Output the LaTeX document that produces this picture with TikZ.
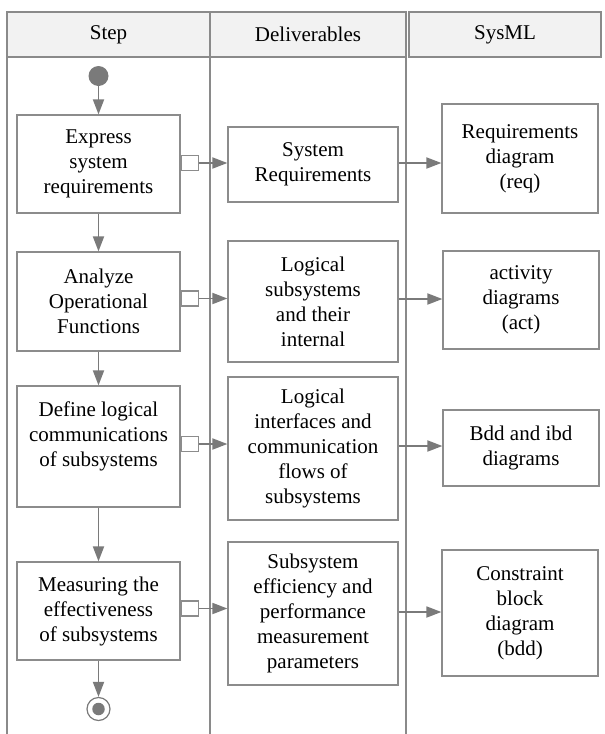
\documentclass[tikz,border=0pt]{standalone}
\usepackage{fontspec}
\setmainfont{Liberation Serif}
\usetikzlibrary{arrows.meta}
\definecolor{lanegray}{HTML}{8A8A8A}
\definecolor{boxgray}{HTML}{8C8C8C}
\definecolor{arrowgray}{HTML}{7A7A7A}
\definecolor{headfill}{HTML}{F2F2F2}
\tikzset{
  txt/.style={font=\fontsize{21}{25}\selectfont, align=center},
  headcell/.style={draw=lanegray, line width=1.3pt, fill=headfill},
  lane/.style={draw=lanegray, line width=1.6pt},
  actbox/.style={txt, draw=boxgray, line width=1.2pt, fill=white, inner sep=0pt},
  stepbox/.style={actbox, minimum width=163pt},
  delivbox/.style={actbox, minimum width=170pt},
  sysbox/.style={actbox, minimum width=156pt},
  port/.style={draw=boxgray, line width=1.2pt, fill=white, minimum width=17pt, minimum height=15pt, inner sep=0pt, anchor=west},
  flow/.style={draw=arrowgray, line width=1.8pt, -{Triangle[length=15pt,width=11pt]}, color=arrowgray},
}
\begin{document}
\begin{tikzpicture}[x=1pt, y=-1pt]
\useasboundingbox (0,0) rectangle (605,734);

% header row
\draw[headcell] (7,12) rectangle (210,57);
\draw[headcell] (210,12) rectangle (406,57);
\draw[headcell] (409,12) rectangle (601,57);
\node[txt] (hstep) at (108.5,34.5) {Step};
\node[txt] (hdeliv) at (308,34.5) {Deliverables};
\node[txt] (hsys) at (505,34.5) {SysML};

% swimlane separators
\draw[lane] (7,57) -- (7,734);
\draw[lane] (210,57) -- (210,734);
\draw[lane] (406,57) -- (406,734);

% initial node
\node[circle, fill=arrowgray, minimum size=20pt, inner sep=0pt] (start) at (98.5,76) {};

% steps
\node[stepbox, minimum height=98pt] (s1) at (98.5,164) {Express\\system\\requirements};
\node[stepbox, minimum height=99pt] (s2) at (98.5,301.5) {Analyze\\Operational\\Functions};
\node[stepbox, minimum height=121pt] (s3) at (98.5,446.5) {Define logical\\communications\\of subsystems\\\mbox{}};
\node[stepbox, minimum height=98pt] (s4) at (98.5,611) {Measuring the\\effectiveness\\of subsystems};

% final node
\node[circle, draw=arrowgray, line width=1.2pt, fill=white, minimum size=23pt, inner sep=0pt] (final) at (98.5,709) {};
\node[circle, fill=arrowgray, minimum size=12.5pt, inner sep=0pt] (finaldot) at (final.center) {};

% output pins
\node[port] (p1) at (s1.east |- 0,163) {};
\node[port] (p2) at (s2.east |- 0,298.5) {};
\node[port] (p3) at (s3.east |- 0,444) {};
\node[port] (p4) at (s4.east |- 0,608.5) {};

% deliverables
\node[delivbox, minimum height=75pt] (d1) at (313,164.5) {System\\Requirements};
\node[delivbox, minimum height=121pt] (d2) at (313,301.5) {Logical\\subsystems\\and their\\internal};
\node[delivbox, minimum height=143pt] (d3) at (313,448.5) {Logical\\interfaces and\\communication\\flows of\\subsystems};
\node[delivbox, minimum height=143pt] (d4) at (313,613.5) {Subsystem\\efficiency and\\performance\\measurement\\parameters};

% SysML diagrams
\node[sysbox, minimum height=109pt] (m1) at (520,158.5) {Requirements\\diagram\\(req)};
\node[sysbox, minimum height=98pt] (m2) at (521,300) {activity\\diagrams\\(act)};
\node[sysbox, minimum height=76pt] (m3) at (521,448) {Bdd and ibd\\diagrams};
\node[sysbox, minimum height=126pt] (m4) at (520,613) {Constraint\\block\\diagram\\(bdd)};

% control flow
\draw[flow] (start) -- (s1.north);
\draw[flow] (s1.south) -- (s2.north);
\draw[flow] (s2.south) -- (s3.north);
\draw[flow] (s3.south) -- (s4.north);
\draw[flow] (s4.south) -- (final.north);

% object flow to deliverables
\draw[flow] (p1.east) -- (p1.east -| d1.west);
\draw[flow] (p2.east) -- (p2.east -| d2.west);
\draw[flow] (p3.east) -- (p3.east -| d3.west);
\draw[flow] (p4.east) -- (p4.east -| d4.west);

% deliverables to SysML diagrams
\draw[flow] (d1.east |- 0,163) -- (m1.west |- 0,163);
\draw[flow] (d2.east |- 0,299) -- (m2.west |- 0,299);
\draw[flow] (d3.east |- 0,446) -- (m3.west |- 0,446);
\draw[flow] (d4.east |- 0,612) -- (m4.west |- 0,612);
\end{tikzpicture}
\end{document}
